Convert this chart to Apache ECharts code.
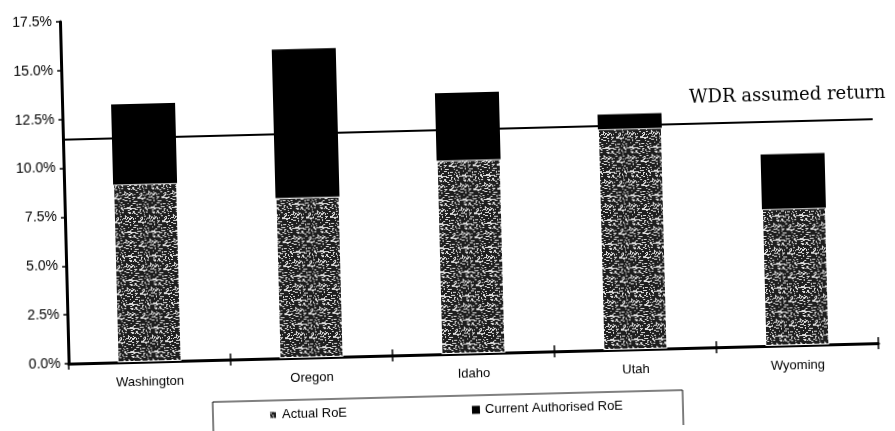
<!DOCTYPE html>
<html><head><meta charset="utf-8">
<script src="https://cdn.jsdelivr.net/npm/echarts@6/dist/echarts.min.js"></script>
<style>
html,body{margin:0;padding:0;background:#fff;overflow:hidden;width:895px;height:431px}
#chart{width:895px;height:431px;transform:rotate(-1.45deg);transform-origin:50% 50%;}
</style></head>
<body><div id="chart"></div>
<script>
// ---- data ----
const categories = ['Washington', 'Oregon', 'Idaho', 'Utah', 'Wyoming'];
const actualRoE = [9.1, 8.2, 9.9, 11.3, 7.0];          // patterned lower segment (top of pattern)
const authorisedRoE = [13.2, 15.8, 13.35, 12.05, 9.8];  // top of black segment
const wdrAssumedReturn = 11.5;
const yTickValues = [0, 2.5, 5, 7.5, 10, 12.5, 15, 17.5];
const seriesNames = ['Actual RoE', 'Current Authorised RoE'];
const wdrLabel = 'WDR assumed return';

// ---- speckled texture (style only) ----
function speckle() {
  const n = 24;
  const c = document.createElement('canvas'); c.width = c.height = n;
  const g = c.getContext('2d');
  g.fillStyle = '#1e1e1e'; g.fillRect(0, 0, n, n);
  g.fillStyle = '#dcdcdc';
  let s = 987654;
  const next = () => { s = (Math.imul(s, 1103515245) + 12345) >>> 0; return s >>> 16; };
  for (let i = 0; i < 120; i++) {
    const x = next() % n, y = next() % n, w = 1 + (next() % 2);
    g.fillRect(x, y, w, 1);
  }
  return c;
}
const pattern = { image: speckle(), repeat: 'repeat' };
const black = '#000';
const font = '"Liberation Sans", Arial, sans-serif';

const chart = echarts.init(document.getElementById('chart'), null, { renderer: 'canvas' });
chart.setOption({
  animation: false,
  backgroundColor: '#fff',
  textStyle: { fontFamily: font },
  grid: { left: 65, right: 20, top: 12, bottom: 77 },
  legend: {
    left: 208, top: 396,
    itemWidth: 8, itemHeight: 8, itemGap: 125,
    padding: [8, 60, 22, 55],
    borderColor: black, borderWidth: 1,
    textStyle: { fontSize: 13, color: black, fontFamily: font },
    data: [{ name: seriesNames[0], icon: 'rect' }, { name: seriesNames[1], icon: 'rect' }]
  },
  xAxis: [
    {
      type: 'category', data: categories,
      axisLine: { lineStyle: { color: black, width: 3 } },
      axisTick: { show: true, length: 6, lineStyle: { color: black, width: 1.5 } },
      axisLabel: { color: black, fontSize: 13, margin: 14, fontFamily: font }
    },
    {
      type: 'category', data: categories, position: 'bottom', offset: 0,
      axisLine: { show: false },
      axisTick: { show: true, inside: true, length: 6, lineStyle: { color: black, width: 1.5 } },
      axisLabel: { show: false }
    }
  ],
  yAxis: {
    type: 'value', min: yTickValues[0], max: yTickValues[yTickValues.length - 1], interval: 2.5,
    axisLine: { show: true, lineStyle: { color: black, width: 3 } },
    axisTick: { show: true, length: 4, lineStyle: { color: black, width: 1.5 } },
    splitLine: { show: false },
    axisLabel: { color: black, fontSize: 14, margin: 8, fontFamily: font,
      formatter: v => v.toFixed(1) + '%' }
  },
  series: [
    {
      name: seriesNames[0], type: 'bar', stack: 'roe', barWidth: 64,
      itemStyle: { color: pattern, borderColor: '#fff', borderWidth: 1 },
      data: actualRoE
    },
    {
      name: seriesNames[1], type: 'bar', stack: 'roe', barWidth: 64,
      itemStyle: { color: black },
      data: authorisedRoE.map((v, i) => +(v - actualRoE[i]).toFixed(2)),
      markLine: {
        silent: true, symbol: 'none',
        lineStyle: { color: black, width: 2, type: 'solid' },
        label: { show: false },
        data: [{ yAxis: wdrAssumedReturn }]
      }
    }
  ],
  graphic: [{
    type: 'text', left: 692, top: 95,
    style: { text: wdrLabel, fill: black, font: '18px "DejaVu Serif", serif' }
  }]
});
</script>
</body></html>
